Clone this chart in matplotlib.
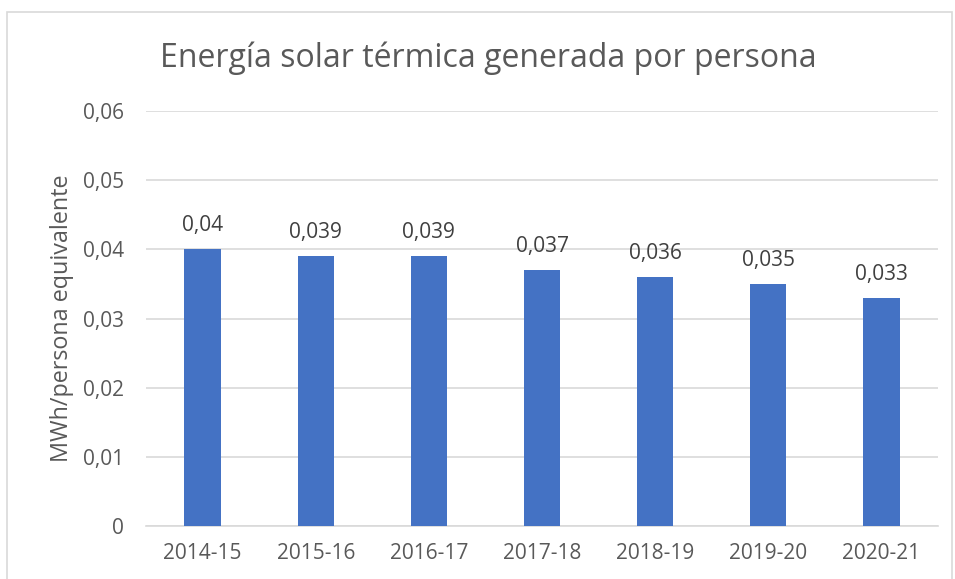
import matplotlib
matplotlib.use('Agg')
import matplotlib.pyplot as plt
from matplotlib.patches import Rectangle
from matplotlib.ticker import FuncFormatter

periodos = ['2014-15', '2015-16', '2016-17', '2017-18', '2018-19', '2019-20', '2020-21']
valores = [0.04, 0.039, 0.039, 0.037, 0.036, 0.035, 0.033]
etiquetas = ['0,04', '0,039', '0,039', '0,037', '0,036', '0,035', '0,033']
yticks = [0, 0.01, 0.02, 0.03, 0.04, 0.05, 0.06]

plt.rcParams['font.family'] = ['Open Sans', 'DejaVu Sans']

fig = plt.figure(figsize=(9.55, 5.79), dpi=100)
ax = fig.add_axes([0.1529, 0.0915, 0.8293, 0.7168])

# marco del grafico
fig.patches.append(Rectangle((7 / 955, -0.05), 945 / 955, 1 - 12 / 579 + 0.05,
                             transform=fig.transFigure, fill=False,
                             edgecolor='#d9d9d9', lw=1.2))

x = range(len(periodos))
bars = ax.bar(x, valores, width=0.32, color='#4472c4', zorder=3)
for b, t in zip(bars, etiquetas):
    ax.text(b.get_x() + b.get_width() / 2, b.get_height() + 0.0026, t,
            ha='center', va='baseline', fontsize=15, color='#404040')

ax.set_xlim(-0.5, len(periodos) - 0.5)
ax.set_ylim(0, 0.06)
ax.set_yticks(yticks)
ax.yaxis.set_major_formatter(FuncFormatter(lambda v, p: '0' if v == 0 else ('%.2f' % v).replace('.', ',')))
ax.set_xticks(list(x))
ax.set_xticklabels(periodos)
ax.tick_params(axis='both', length=0, labelsize=15, colors='#595959')
ax.tick_params(axis='y', pad=16)
ax.tick_params(axis='x', pad=12)
ax.grid(axis='y', color='#d9d9d9', lw=1.2, zorder=0)
for s in ['top', 'right', 'left']:
    ax.spines[s].set_visible(False)
ax.spines['bottom'].set_color('#d9d9d9')
ax.spines['bottom'].set_linewidth(1.2)

ax.set_ylabel('MWh/persona equivalente', fontsize=16.8, color='#595959', labelpad=6)
fig.text(0.511, 0.9, 'Energía solar térmica generada por persona', ha='center', va='center',
         fontsize=23, color='#595959')

fig.savefig('out.png', dpi=100)
